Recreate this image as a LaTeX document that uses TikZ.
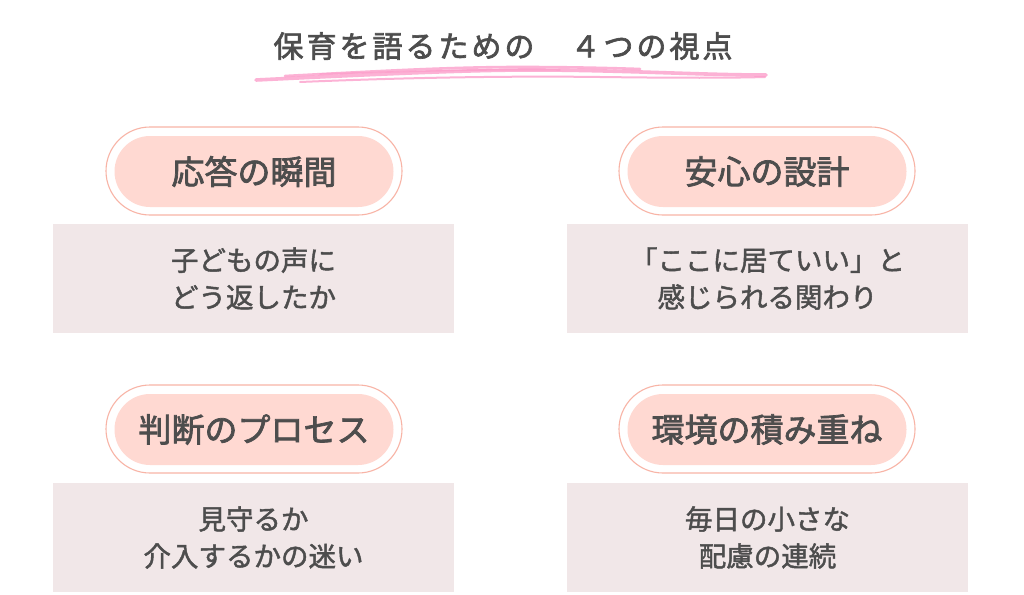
\documentclass[tikz,border=0pt]{standalone}
\usepackage{fontspec}
\setmainfont{Noto Sans CJK JP}
\newfontfamily\titlefont[LetterSpace=10,FakeBold=2.2]{Noto Sans CJK JP}
\newfontfamily\pillfont[FakeBold=2.2]{Noto Sans CJK JP}
\newfontfamily\boxfont[FakeBold=1.6]{Noto Sans CJK JP}
\definecolor{txt}{HTML}{4D4D4D}
\definecolor{pillfill}{HTML}{FFD9D2}
\definecolor{pillline}{HTML}{F8B4A6}
\definecolor{boxfill}{HTML}{F1E7E8}
\definecolor{brush}{HTML}{FC9FCB}
\begin{document}
\begin{tikzpicture}[x=1pt,y=-1pt,
  outerpill/.style={draw=pillline, line width=1.1pt, fill=white, rounded corners=44pt,
    minimum width=296pt, minimum height=88pt, inner sep=0pt},
  innerpill/.style={fill=pillfill, rounded corners=35.5pt,
    minimum width=279pt, minimum height=71pt, inner sep=0pt, text=txt,
    font=\pillfont\fontsize{33}{40}\selectfont},
  descbox/.style={fill=boxfill, minimum width=401pt, minimum height=109pt,
    inner sep=0pt, text=txt, align=center,
    font=\boxfont\fontsize{27.5}{37}\selectfont},
  brushline/.style={draw=brush, line cap=round, opacity=0.8}
]
\useasboundingbox (0,0) rectangle (1024,594);
\fill[white] (0,0) rectangle (1024,594);

% title
\node[text=txt, font=\titlefont\fontsize{30}{34}\selectfont, inner sep=0pt] (title) at (503,46) {保育を語るための　４つの視点};

% brush underline
\draw[brushline, line width=3.6pt] (256,80) .. controls (380,74) and (470,70) .. (530,70) .. controls (620,70) and (700,75) .. (766,75);
\draw[brushline, line width=2.6pt] (285,76) .. controls (380,71) and (450,67) .. (520,67) .. controls (570,67) and (610,68) .. (640,69);
\draw[brushline, line width=2pt] (300,82) .. controls (420,77) and (520,76) .. (600,77) .. controls (680,78) and (730,78) .. (765,77);
\draw[brushline, line width=1.6pt] (320,74) .. controls (420,71) and (490,69) .. (560,70);

% row 1 left
\node[outerpill] (p1o) at (254,171) {};
\node[innerpill] (p1) at (254,171.5) {応答の瞬間};
\node[descbox] (b1) at (253.5,278.5) {子どもの声に\\どう返したか};

% row 1 right
\node[outerpill] (p2o) at (767,171) {};
\node[innerpill] (p2) at (767,171.5) {安心の設計};
\node[descbox] (b2) at (767.5,278.5) {「ここに居ていい」と\\感じられる関わり};

% row 2 left
\node[outerpill] (p3o) at (254,429) {};
\node[innerpill] (p3) at (254,429.5) {判断のプロセス};
\node[descbox] (b3) at (253.5,537.5) {見守るか\\介入するかの迷い};

% row 2 right
\node[outerpill] (p4o) at (767,429) {};
\node[innerpill] (p4) at (767,429.5) {環境の積み重ね};
\node[descbox] (b4) at (767.5,537.5) {毎日の小さな\\配慮の連続};
\end{tikzpicture}
\end{document}
